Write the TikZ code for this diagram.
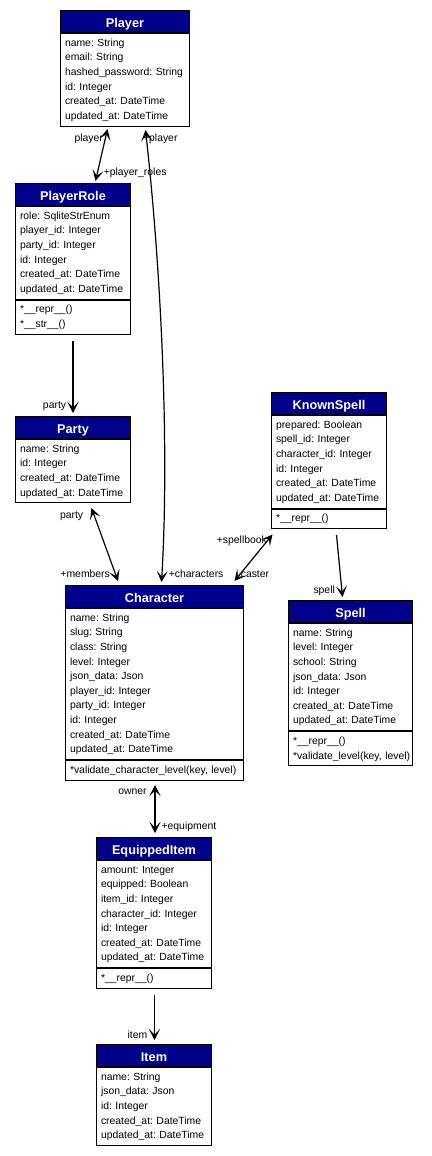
\documentclass[tikz,border=0pt]{standalone}
\usepackage{fontspec}
\setmainfont{Liberation Sans}
\usetikzlibrary{positioning,arrows.meta}
\frenchspacing

\definecolor{headblue}{RGB}{0,0,139}
\newcommand{\rowfont}{\fontsize{10.4pt}{14.6pt}\selectfont}
\newcommand{\headfont}{\fontsize{12.7pt}{14pt}\selectfont\bfseries}
\newcommand{\lblfont}{\fontsize{10.4pt}{12pt}\selectfont}
\newcommand{\fields}[1]{\begin{tabular}{@{}l@{}}#1\end{tabular}}

\tikzset{
  classhead/.style={draw, line width=1pt, fill=headblue, text=white, font=\headfont,
    minimum width=#1, minimum height=22pt, inner sep=0pt,
    text height=11.5pt, text depth=0pt, anchor=north west},
  classbody/.style={draw, line width=1pt, fill=white, font=\rowfont,
    inner xsep=4.5pt, inner ysep=2.5pt, text width=#1-9pt, align=left},
  assoc/.style={line width=1.2pt},
  lbl/.style={font=\lblfont, inner sep=0pt},
  >={Stealth[length=11pt,width=11pt,inset=5.5pt]}
}

\begin{document}
\begin{tikzpicture}[x=1pt, y=-1pt]
  \path[use as bounding box, fill=white] (0,0) rectangle (431,1156);

  % Player
  \node[classhead=129pt] (player) at (60,10) {Player};
  \node[classbody=129pt, below=0pt of player] (playerattr)
    {\fields{name: String\\email: String\\hashed\_password: String\\id: Integer\\created\_at: DateTime\\updated\_at: DateTime}};

  % PlayerRole
  \node[classhead=115pt] (playerrole) at (15,183) {PlayerRole};
  \node[classbody=115pt, below=0pt of playerrole] (playerroleattr)
    {\fields{role: SqliteStrEnum\\player\_id: Integer\\party\_id: Integer\\id: Integer\\created\_at: DateTime\\updated\_at: DateTime}};
  \node[classbody=115pt, below=0pt of playerroleattr] (playerroleops)
    {\fields{*\_\_repr\_\_()\\{}*\_\_str\_\_()}};

  % Party
  \node[classhead=115pt] (party) at (15,416) {Party};
  \node[classbody=115pt, below=0pt of party] (partyattr)
    {\fields{name: String\\id: Integer\\created\_at: DateTime\\updated\_at: DateTime}};

  % KnownSpell
  \node[classhead=115pt] (knownspell) at (271,392) {KnownSpell};
  \node[classbody=115pt, below=0pt of knownspell] (knownspellattr)
    {\fields{prepared: Boolean\\spell\_id: Integer\\character\_id: Integer\\id: Integer\\created\_at: DateTime\\updated\_at: DateTime}};
  \node[classbody=115pt, below=0pt of knownspellattr] (knownspellops)
    {\fields{*\_\_repr\_\_()}};

  % Spell
  \node[classhead=124pt] (spell) at (288,600) {Spell};
  \node[classbody=124pt, below=0pt of spell] (spellattr)
    {\fields{name: String\\level: Integer\\school: String\\json\_data: Json\\id: Integer\\created\_at: DateTime\\updated\_at: DateTime}};
  \node[classbody=124pt, below=0pt of spellattr] (spellops)
    {\fields{*\_\_repr\_\_()\\{}*validate\_level(key, level)}};

  % Character
  \node[classhead=178pt] (character) at (65,585) {Character};
  \node[classbody=178pt, below=0pt of character] (characterattr)
    {\fields{name: String\\slug: String\\class: String\\level: Integer\\json\_data: Json\\player\_id: Integer\\party\_id: Integer\\id: Integer\\created\_at: DateTime\\updated\_at: DateTime}};
  \node[classbody=178pt, below=0pt of characterattr] (characterops)
    {\fields{*validate\_character\_level(key, level)}};

  % EquippedItem
  \node[classhead=115pt] (equippeditem) at (96,837) {EquippedItem};
  \node[classbody=115pt, below=0pt of equippeditem] (equippeditemattr)
    {\fields{amount: Integer\\equipped: Boolean\\item\_id: Integer\\character\_id: Integer\\id: Integer\\created\_at: DateTime\\updated\_at: DateTime}};
  \node[classbody=115pt, below=0pt of equippeditemattr] (equippeditemops)
    {\fields{*\_\_repr\_\_()}};

  % Item
  \node[classhead=115pt] (item) at (96,1044) {Item};
  \node[classbody=115pt, below=0pt of item] (itemattr)
    {\fields{name: String\\json\_data: Json\\id: Integer\\created\_at: DateTime\\updated\_at: DateTime}};

  % Associations
  \draw[assoc, <->] ([xshift=-17.5pt,yshift=-2.4pt]playerattr.south) -- ([xshift=22.5pt,yshift=2pt]playerrole.north)
    node[lbl, pos=0, anchor=east, xshift=-4pt, yshift=-10pt] (lblplayer) {player}
    node[lbl, pos=1, anchor=west, xshift=7.7pt, yshift=7.7pt] (lblroles) {+player\_roles};

  \draw[assoc, <->] ([xshift=20.5pt,yshift=-3.4pt]playerattr.south)
    .. controls (160,260) and (170,440) .. ([xshift=7pt,yshift=3pt]character.north)
    node[lbl, pos=0, anchor=west, xshift=-3pt, yshift=-9pt] (lblowner) {+player}
    node[lbl, pos=1, anchor=west, xshift=6.7pt, yshift=8pt] (lblchars) {+characters};

  \draw[assoc, ->] ([yshift=-6pt]playerroleops.south) -- ([yshift=3pt]party.north)
    node[lbl, pos=1, anchor=east, xshift=-6.3pt, yshift=6.3pt] (lblparty) {party};

  \draw[assoc, <->] ([xshift=18.5pt,yshift=-4.6pt]partyattr.south) -- ([xshift=-36.5pt,yshift=4pt]character.north)
    node[lbl, pos=0, anchor=east, xshift=-7.7pt, yshift=-8pt] (lblcharparty) {party}
    node[lbl, pos=1, anchor=east, xshift=-7.5pt, yshift=7pt] (lblmembers) {+members};

  \draw[assoc, <->] ([xshift=-56.5pt,yshift=-5.3pt]knownspellops.south) -- ([xshift=80pt,yshift=4pt]character.north)
    node[lbl, pos=0, anchor=east, xshift=-5pt, yshift=-6.8pt] (lblbook) {+spellbook}
    node[lbl, pos=1, anchor=west, xshift=5.7pt, yshift=7pt] (lblcaster) {caster};

  \draw[assoc, ->] ([xshift=7.5pt,yshift=-5.8pt]knownspellops.south) -- ([xshift=-8pt,yshift=3pt]spell.north)
    node[lbl, pos=1, anchor=east, xshift=-7pt, yshift=6.3pt] (lblspell) {spell};

  \draw[assoc, <->] ([xshift=0.5pt,yshift=-4.4pt]characterops.south) -- ([xshift=1pt,yshift=4pt]equippeditem.north)
    node[lbl, pos=0, anchor=east, xshift=-7.7pt, yshift=-7pt] (lblequipowner) {owner}
    node[lbl, pos=1, anchor=west, xshift=6pt, yshift=6.3pt] (lblequip) {+equipment};

  \draw[assoc, ->] ([xshift=0.5pt,yshift=-6pt]equippeditemops.south) -- ([xshift=0.5pt,yshift=4pt]item.north)
    node[lbl, pos=1, anchor=east, xshift=-6.7pt, yshift=5.7pt] (lblitem) {item};
\end{tikzpicture}
\end{document}
